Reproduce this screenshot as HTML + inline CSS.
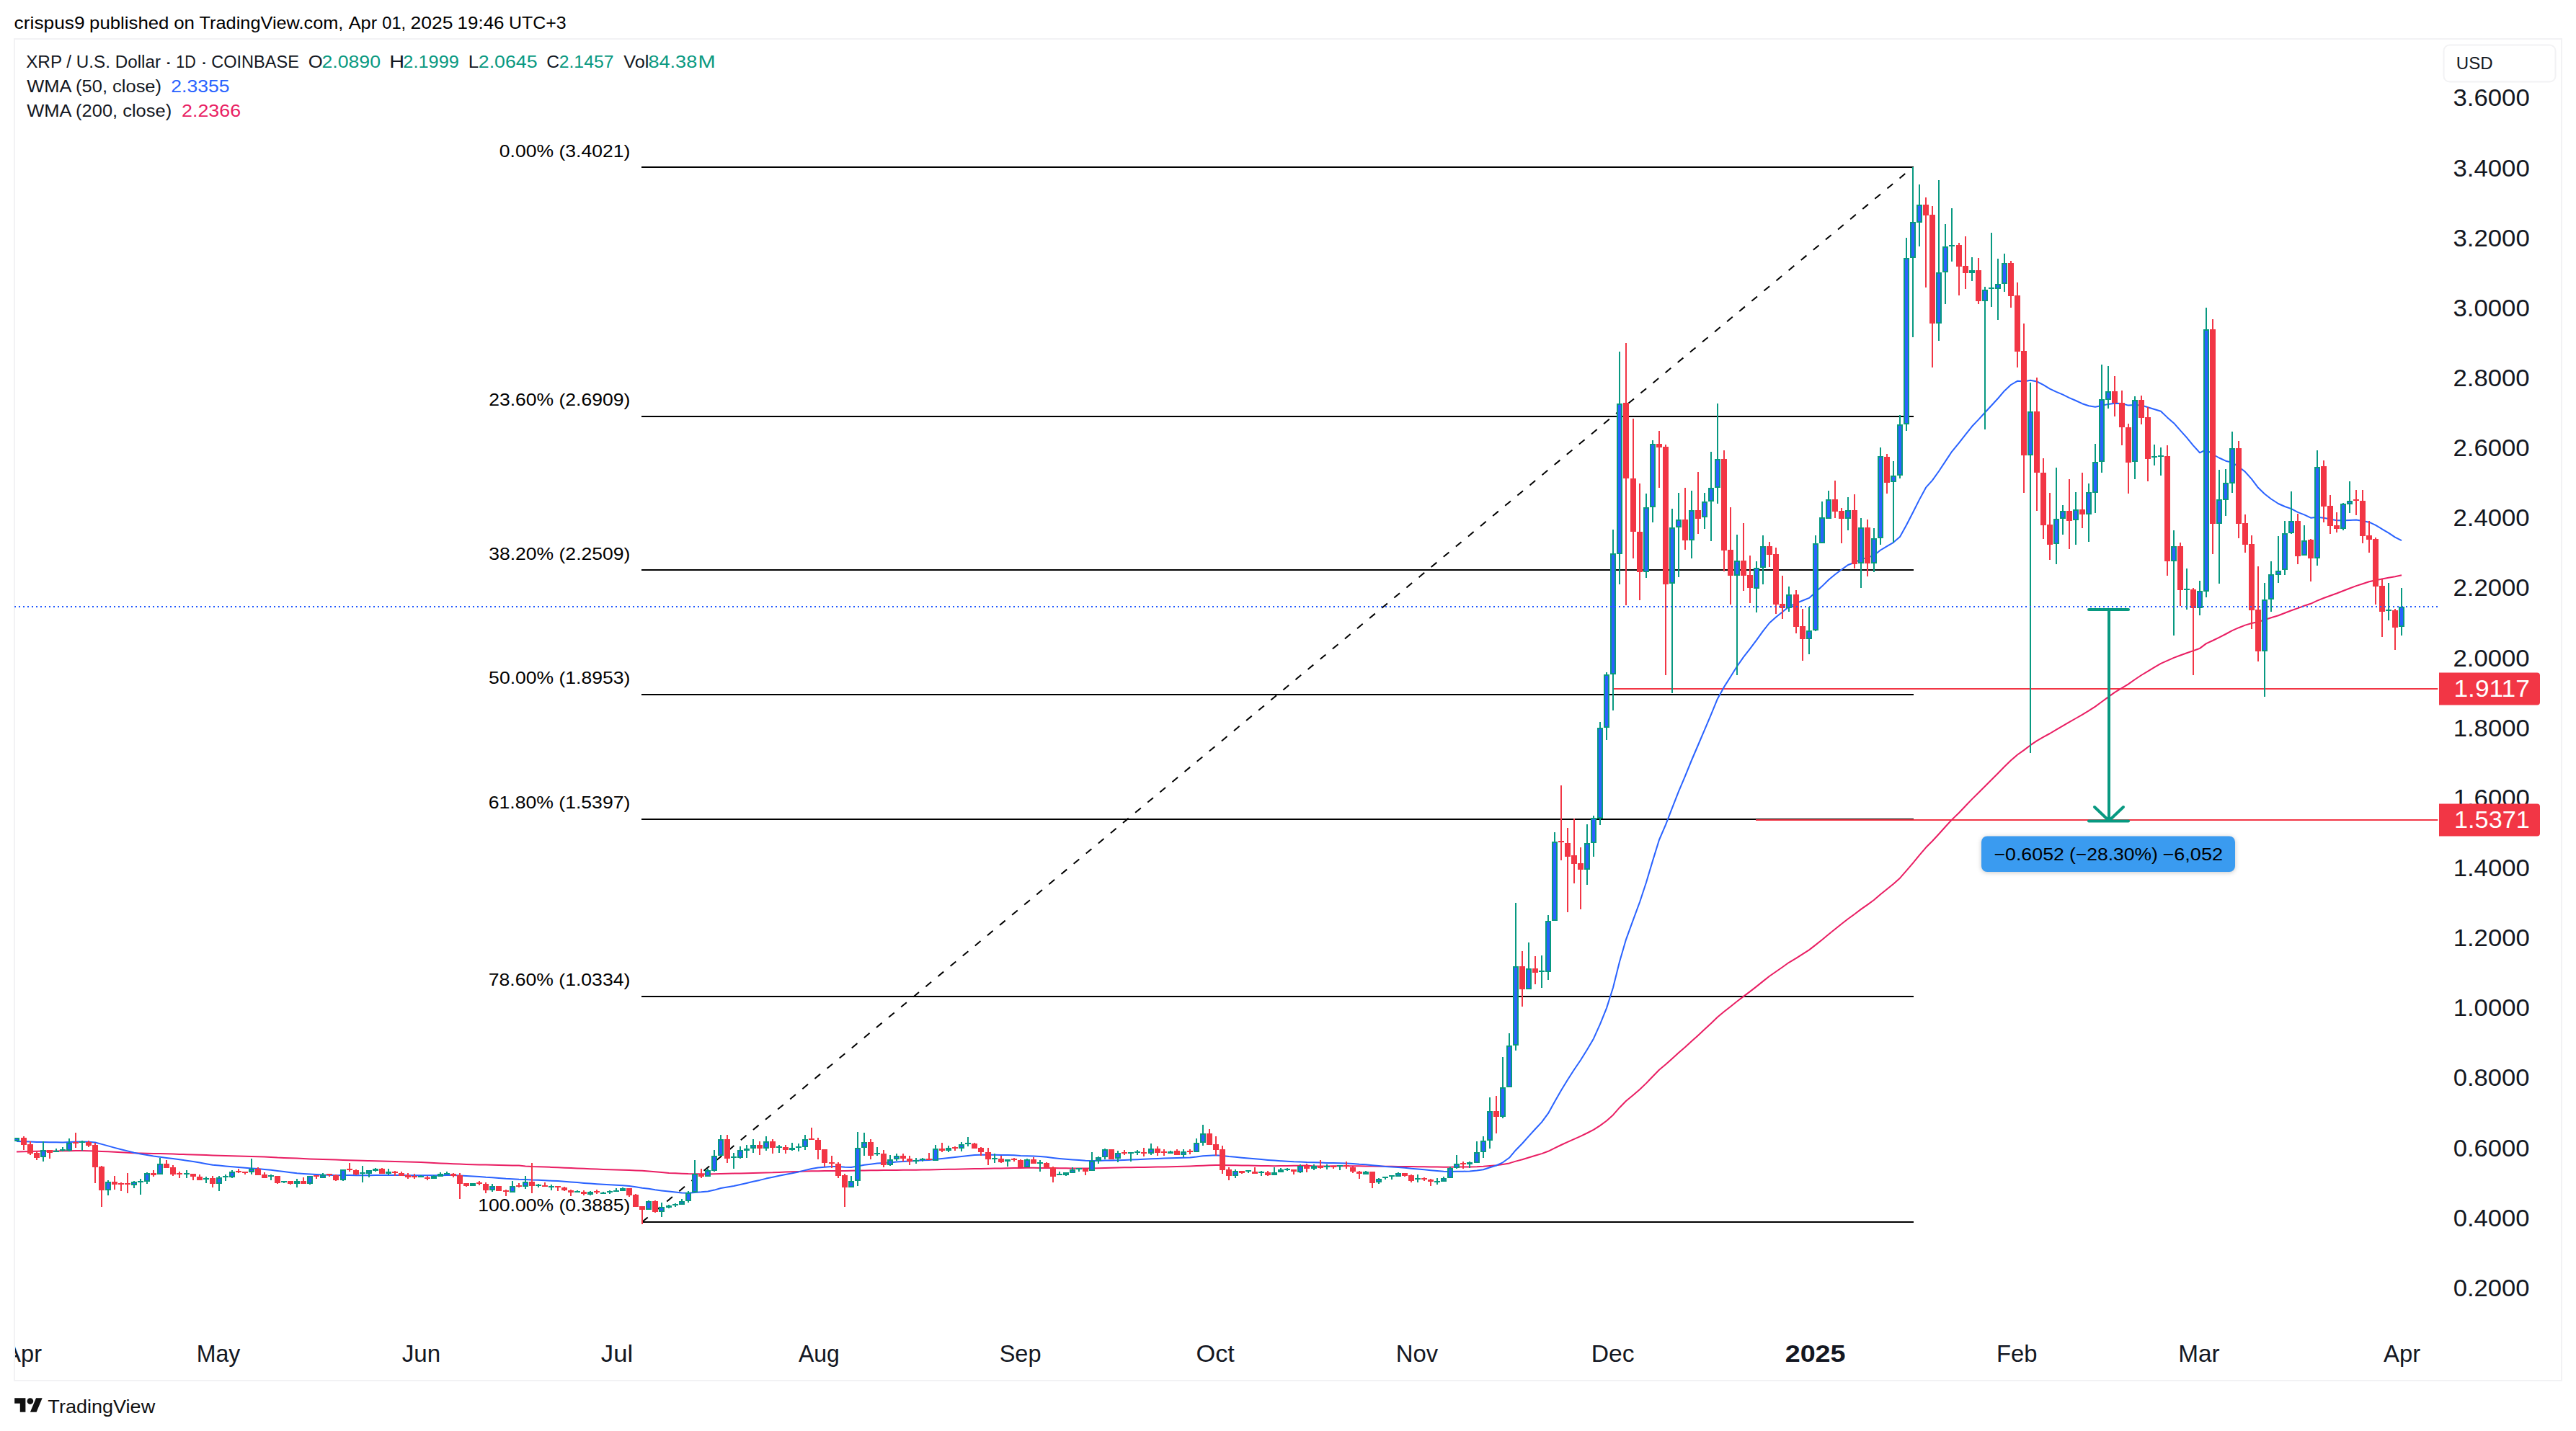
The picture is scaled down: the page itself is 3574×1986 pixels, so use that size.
<!DOCTYPE html>
<html lang="en"><head><meta charset="utf-8"><title>XRP / U.S. Dollar chart</title>
<style>
html,body{margin:0;padding:0;background:#fff;}
body{width:3574px;height:1986px;overflow:hidden;position:relative;}
svg{position:absolute;left:0;top:0;display:block;}
text{font-family:"Liberation Sans", Arial, Helvetica, sans-serif;}
</style></head><body>
<svg xmlns="http://www.w3.org/2000/svg" width="3574" height="1986" viewBox="0 0 3574 1986">
<rect x="0" y="0" width="3574" height="1986" fill="#ffffff"/>
<rect x="20" y="54" width="3534" height="1862" fill="none" stroke="#f2f2f4" stroke-width="2" shape-rendering="crispEdges"/>
<defs><clipPath id="cp"><rect x="20.2" y="55" width="3362.1" height="1860"/></clipPath></defs>
<g shape-rendering="crispEdges" fill="#000">
<rect x="890" y="231" width="1765" height="2"/>
<rect x="890" y="577" width="1765" height="2"/>
<rect x="890" y="790" width="1765" height="2"/>
<rect x="890" y="963" width="1765" height="2"/>
<rect x="890" y="1136" width="1765" height="2"/>
<rect x="890" y="1382" width="1765" height="2"/>
<rect x="890" y="1695" width="1765" height="2"/>
</g>
<line x1="891" y1="1695.8" x2="2654" y2="232.1" stroke="#000" stroke-width="2" stroke-dasharray="10 12.23" stroke-dashoffset="0"/>
<g clip-path="url(#cp)">
<g shape-rendering="crispEdges" fill="#f23645">
<rect x="2239" y="955" width="1144" height="2"/>
<rect x="2436" y="1137" width="947" height="2"/>
</g>
<polyline points="23.0,1598.4 33.0,1598.2 42.0,1598.0 51.0,1597.8 60.0,1597.6 69.0,1597.5 78.0,1597.4 87.0,1597.3 96.0,1597.2 105.0,1597.1 114.0,1597.1 123.0,1597.2 132.0,1597.6 141.0,1597.9 150.0,1598.3 159.0,1598.7 168.0,1599.2 177.0,1599.7 186.0,1600.3 195.0,1600.5 204.0,1600.7 213.0,1600.9 222.0,1601.1 231.0,1601.3 240.0,1601.6 249.0,1601.9 259.0,1602.2 268.0,1602.5 277.0,1602.8 286.0,1603.1 295.0,1603.4 304.0,1603.7 313.0,1604.0 322.0,1604.3 331.0,1604.5 340.0,1604.8 349.0,1605.1 358.0,1605.3 367.0,1605.6 376.0,1606.1 385.0,1606.6 394.0,1606.9 403.0,1607.3 412.0,1607.6 421.0,1608.0 430.0,1608.4 439.0,1608.7 448.0,1609.0 457.0,1609.3 466.0,1609.6 476.0,1609.9 485.0,1610.2 494.0,1610.5 503.0,1610.8 512.0,1611.1 521.0,1611.3 530.0,1611.6 539.0,1611.8 548.0,1612.1 557.0,1612.3 566.0,1612.6 575.0,1612.8 584.0,1613.1 593.0,1613.6 602.0,1614.0 611.0,1614.4 620.0,1614.8 629.0,1615.2 638.0,1615.6 647.0,1616.0 656.0,1616.3 665.0,1616.5 674.0,1616.6 683.0,1616.8 692.0,1617.0 702.0,1617.2 711.0,1617.4 720.0,1617.6 729.0,1618.4 738.0,1618.9 747.0,1619.2 756.0,1619.6 765.0,1619.9 774.0,1620.3 783.0,1620.7 792.0,1621.0 801.0,1621.4 810.0,1621.8 819.0,1622.2 828.0,1622.6 837.0,1622.9 846.0,1623.2 855.0,1623.5 864.0,1623.8 873.0,1624.1 882.0,1624.4 891.0,1624.8 900.0,1625.6 909.0,1626.3 918.0,1627.1 928.0,1627.9 937.0,1628.3 946.0,1628.7 955.0,1629.1 964.0,1629.2 973.0,1629.3 982.0,1629.4 991.0,1629.3 1000.0,1629.1 1009.0,1628.8 1018.0,1628.6 1027.0,1628.4 1036.0,1628.2 1045.0,1628.0 1054.0,1627.8 1063.0,1627.5 1072.0,1627.3 1081.0,1626.9 1090.0,1626.6 1099.0,1626.2 1108.0,1625.9 1117.0,1625.6 1126.0,1625.2 1135.0,1625.2 1144.0,1625.1 1154.0,1625.1 1163.0,1625.0 1172.0,1624.9 1181.0,1624.7 1190.0,1624.6 1199.0,1624.4 1208.0,1624.3 1217.0,1624.2 1226.0,1624.1 1235.0,1624.0 1244.0,1623.9 1253.0,1623.8 1262.0,1623.7 1271.0,1623.7 1280.0,1623.6 1289.0,1623.4 1298.0,1623.2 1307.0,1623.0 1316.0,1622.8 1325.0,1622.7 1334.0,1622.5 1343.0,1622.3 1352.0,1622.1 1361.0,1621.9 1371.0,1621.7 1380.0,1621.6 1389.0,1621.4 1398.0,1621.2 1407.0,1621.0 1416.0,1620.9 1425.0,1620.8 1434.0,1620.8 1443.0,1620.9 1452.0,1621.0 1461.0,1621.1 1470.0,1621.3 1479.0,1621.3 1488.0,1621.4 1497.0,1621.4 1506.0,1621.4 1515.0,1621.5 1524.0,1621.3 1533.0,1621.1 1542.0,1620.8 1551.0,1620.6 1560.0,1620.3 1569.0,1620.2 1578.0,1620.0 1587.0,1619.9 1597.0,1619.7 1606.0,1619.5 1615.0,1619.4 1624.0,1619.2 1633.0,1618.9 1642.0,1618.7 1651.0,1618.4 1660.0,1618.1 1669.0,1617.7 1678.0,1617.2 1687.0,1616.9 1696.0,1617.0 1705.0,1617.2 1714.0,1617.3 1723.0,1617.4 1732.0,1617.6 1741.0,1617.8 1750.0,1617.9 1759.0,1618.1 1768.0,1618.2 1777.0,1618.1 1786.0,1617.9 1795.0,1617.8 1804.0,1617.7 1813.0,1617.6 1823.0,1618.4 1832.0,1618.4 1841.0,1618.4 1850.0,1618.3 1859.0,1618.3 1868.0,1618.2 1877.0,1618.3 1886.0,1618.3 1895.0,1618.4 1904.0,1618.5 1913.0,1618.7 1922.0,1618.8 1931.0,1618.8 1940.0,1618.9 1949.0,1618.9 1958.0,1619.1 1967.0,1619.2 1976.0,1619.3 1985.0,1619.5 1994.0,1619.6 2003.0,1619.7 2012.0,1619.7 2021.0,1619.6 2030.0,1619.6 2039.0,1619.4 2049.0,1619.2 2058.0,1618.8 2067.0,1618.0 2076.0,1617.3 2085.0,1616.1 2094.0,1614.4 2103.0,1611.6 2112.0,1609.2 2121.0,1606.5 2130.0,1603.8 2139.0,1601.1 2148.0,1597.8 2157.0,1593.4 2166.0,1589.0 2175.0,1584.8 2184.0,1580.8 2193.0,1576.8 2202.0,1572.5 2211.0,1567.9 2220.0,1562.1 2229.0,1555.5 2238.0,1547.4 2247.0,1537.2 2256.0,1528.0 2266.0,1519.7 2275.0,1512.0 2284.0,1503.4 2293.0,1494.0 2302.0,1484.7 2311.0,1477.3 2320.0,1469.2 2329.0,1461.0 2338.0,1453.2 2347.0,1445.0 2356.0,1436.9 2365.0,1428.6 2374.0,1420.3 2383.0,1411.5 2392.0,1404.1 2401.0,1397.0 2410.0,1389.8 2419.0,1382.9 2428.0,1376.1 2437.0,1369.1 2446.0,1361.9 2455.0,1354.8 2464.0,1348.5 2473.0,1342.2 2482.0,1335.8 2492.0,1329.9 2501.0,1324.2 2510.0,1318.4 2519.0,1311.4 2528.0,1304.2 2537.0,1296.7 2546.0,1289.5 2555.0,1282.3 2564.0,1275.2 2573.0,1268.8 2582.0,1261.9 2591.0,1255.6 2600.0,1249.0 2609.0,1241.3 2618.0,1234.0 2627.0,1226.7 2636.0,1218.7 2645.0,1208.4 2654.0,1197.8 2663.0,1186.9 2672.0,1176.3 2681.0,1167.2 2690.0,1157.5 2699.0,1147.5 2708.0,1137.6 2718.0,1128.0 2727.0,1118.5 2736.0,1109.1 2745.0,1100.2 2754.0,1091.2 2763.0,1082.2 2772.0,1073.2 2781.0,1064.0 2790.0,1055.3 2799.0,1047.5 2808.0,1041.1 2817.0,1034.2 2826.0,1028.2 2835.0,1022.9 2844.0,1018.0 2853.0,1012.7 2862.0,1007.4 2871.0,1002.2 2880.0,997.0 2889.0,991.8 2898.0,986.4 2907.0,980.6 2916.0,974.0 2925.0,967.4 2934.0,960.9 2944.0,954.9 2953.0,949.4 2962.0,943.0 2971.0,937.0 2980.0,931.6 2989.0,926.1 2998.0,920.8 3007.0,916.9 3016.0,912.9 3025.0,909.5 3034.0,906.2 3043.0,903.1 3052.0,899.9 3061.0,893.1 3070.0,889.0 3079.0,884.6 3088.0,880.0 3097.0,875.1 3106.0,871.2 3115.0,867.6 3124.0,865.0 3133.0,863.0 3142.0,860.3 3151.0,857.3 3161.0,854.3 3170.0,850.8 3179.0,847.2 3188.0,844.1 3197.0,840.8 3206.0,837.8 3215.0,833.6 3224.0,830.0 3233.0,826.7 3242.0,823.5 3251.0,820.0 3260.0,816.5 3269.0,813.1 3278.0,810.2 3287.0,807.3 3296.0,805.2 3305.0,803.5 3314.0,801.7 3323.0,800.3 3332.0,798.2" fill="none" stroke="#e91e63" stroke-width="2" stroke-linejoin="round"/>
<polyline points="23.0,1583.9 33.0,1584.3 42.0,1584.6 51.0,1584.9 60.0,1585.0 69.0,1585.2 78.0,1585.3 87.0,1585.4 96.0,1585.1 105.0,1584.8 114.0,1584.6 123.0,1584.8 132.0,1585.5 141.0,1587.9 150.0,1590.4 159.0,1592.9 168.0,1595.2 177.0,1597.4 186.0,1599.7 195.0,1601.4 204.0,1602.9 213.0,1604.5 222.0,1605.8 231.0,1606.9 240.0,1608.0 249.0,1609.3 259.0,1610.8 268.0,1612.1 277.0,1613.6 286.0,1615.2 295.0,1616.7 304.0,1617.6 313.0,1618.5 322.0,1619.2 331.0,1619.9 340.0,1620.7 349.0,1621.4 358.0,1622.1 367.0,1622.9 376.0,1623.8 385.0,1624.9 394.0,1626.0 403.0,1627.2 412.0,1628.3 421.0,1628.9 430.0,1629.4 439.0,1629.9 448.0,1630.5 457.0,1630.8 466.0,1631.2 476.0,1631.1 485.0,1631.1 494.0,1631.3 503.0,1631.3 512.0,1631.2 521.0,1631.1 530.0,1631.1 539.0,1631.0 548.0,1631.0 557.0,1631.1 566.0,1631.2 575.0,1631.2 584.0,1631.2 593.0,1631.3 602.0,1631.3 611.0,1631.2 620.0,1631.0 629.0,1631.0 638.0,1631.5 647.0,1632.0 656.0,1632.5 665.0,1632.9 674.0,1633.7 683.0,1634.2 692.0,1635.0 702.0,1635.8 711.0,1636.2 720.0,1636.7 729.0,1636.9 738.0,1637.4 747.0,1637.7 756.0,1638.2 765.0,1638.7 774.0,1639.1 783.0,1639.8 792.0,1640.5 801.0,1641.1 810.0,1641.9 819.0,1642.5 828.0,1643.2 837.0,1643.8 846.0,1644.3 855.0,1644.8 864.0,1645.2 873.0,1645.9 882.0,1647.2 891.0,1648.7 900.0,1649.7 909.0,1651.2 918.0,1652.4 928.0,1653.6 937.0,1654.6 946.0,1655.4 955.0,1655.7 964.0,1654.9 973.0,1654.3 982.0,1653.4 991.0,1651.6 1000.0,1649.0 1009.0,1647.5 1018.0,1645.9 1027.0,1644.0 1036.0,1642.0 1045.0,1639.8 1054.0,1637.9 1063.0,1635.6 1072.0,1633.7 1081.0,1631.8 1090.0,1630.0 1099.0,1628.2 1108.0,1626.4 1117.0,1624.1 1126.0,1622.0 1135.0,1620.5 1144.0,1619.7 1154.0,1619.1 1163.0,1619.0 1172.0,1619.7 1181.0,1620.0 1190.0,1618.5 1199.0,1616.7 1208.0,1615.7 1217.0,1614.5 1226.0,1614.1 1235.0,1613.4 1244.0,1612.6 1253.0,1611.9 1262.0,1611.4 1271.0,1610.9 1280.0,1610.3 1289.0,1609.9 1298.0,1608.8 1307.0,1608.0 1316.0,1607.0 1325.0,1606.1 1334.0,1605.0 1343.0,1603.9 1352.0,1603.1 1361.0,1602.7 1371.0,1602.7 1380.0,1602.7 1389.0,1602.9 1398.0,1603.1 1407.0,1603.3 1416.0,1603.9 1425.0,1604.2 1434.0,1604.6 1443.0,1605.0 1452.0,1605.7 1461.0,1606.9 1470.0,1607.9 1479.0,1608.8 1488.0,1609.5 1497.0,1610.1 1506.0,1610.8 1515.0,1611.0 1524.0,1611.0 1533.0,1610.5 1542.0,1610.5 1551.0,1610.2 1560.0,1609.9 1569.0,1609.6 1578.0,1609.2 1587.0,1608.8 1597.0,1608.2 1606.0,1607.9 1615.0,1607.6 1624.0,1607.2 1633.0,1607.0 1642.0,1606.7 1651.0,1606.4 1660.0,1605.6 1669.0,1604.3 1678.0,1603.7 1687.0,1603.3 1696.0,1604.0 1705.0,1605.1 1714.0,1605.8 1723.0,1606.7 1732.0,1607.4 1741.0,1608.2 1750.0,1609.0 1759.0,1609.9 1768.0,1610.6 1777.0,1611.2 1786.0,1611.7 1795.0,1612.3 1804.0,1612.6 1813.0,1613.1 1823.0,1613.3 1832.0,1613.6 1841.0,1613.9 1850.0,1614.1 1859.0,1614.3 1868.0,1614.5 1877.0,1615.0 1886.0,1615.7 1895.0,1616.2 1904.0,1617.2 1913.0,1618.1 1922.0,1618.9 1931.0,1619.5 1940.0,1620.1 1949.0,1620.7 1958.0,1621.7 1967.0,1622.5 1976.0,1623.3 1985.0,1624.2 1994.0,1625.1 2003.0,1625.8 2012.0,1625.9 2021.0,1625.8 2030.0,1625.7 2039.0,1625.4 2049.0,1624.6 2058.0,1623.2 2067.0,1620.2 2076.0,1617.5 2085.0,1613.3 2094.0,1606.8 2103.0,1596.2 2112.0,1587.0 2121.0,1576.8 2130.0,1567.0 2139.0,1557.4 2148.0,1545.2 2157.0,1529.0 2166.0,1513.2 2175.0,1498.5 2184.0,1484.5 2193.0,1471.2 2202.0,1456.8 2211.0,1441.4 2220.0,1421.4 2229.0,1399.1 2238.0,1370.7 2247.0,1334.7 2256.0,1303.8 2266.0,1276.4 2275.0,1252.0 2284.0,1224.7 2293.0,1194.6 2302.0,1165.5 2311.0,1144.7 2320.0,1121.4 2329.0,1098.4 2338.0,1077.1 2347.0,1055.0 2356.0,1034.0 2365.0,1012.8 2374.0,991.7 2383.0,969.7 2392.0,953.4 2401.0,939.2 2410.0,924.8 2419.0,911.9 2428.0,900.4 2437.0,888.4 2446.0,875.8 2455.0,864.5 2464.0,856.5 2473.0,849.3 2482.0,842.0 2492.0,837.1 2501.0,833.5 2510.0,829.9 2519.0,822.1 2528.0,813.6 2537.0,804.7 2546.0,797.2 2555.0,790.5 2564.0,784.0 2573.0,780.8 2582.0,776.2 2591.0,773.9 2600.0,770.7 2609.0,763.5 2618.0,758.2 2627.0,752.8 2636.0,745.1 2645.0,728.8 2654.0,711.2 2663.0,693.4 2672.0,676.7 2681.0,666.6 2690.0,654.0 2699.0,640.4 2708.0,626.8 2718.0,614.6 2727.0,603.1 2736.0,591.8 2745.0,582.4 2754.0,572.5 2763.0,562.7 2772.0,553.0 2781.0,542.4 2790.0,534.0 2799.0,528.8 2808.0,529.4 2817.0,527.7 2826.0,529.5 2835.0,534.1 2844.0,539.7 2853.0,543.9 2862.0,547.7 2871.0,552.1 2880.0,556.0 2889.0,560.2 2898.0,563.3 2907.0,564.8 2916.0,563.0 2925.0,560.9 2934.0,559.7 2944.0,560.1 2953.0,562.6 2962.0,561.9 2971.0,562.4 2980.0,565.2 2989.0,568.0 2998.0,570.8 3007.0,579.4 3016.0,587.2 3025.0,597.3 3034.0,607.3 3043.0,618.3 3052.0,628.3 3061.0,624.0 3070.0,630.5 3079.0,635.5 3088.0,639.7 3097.0,641.9 3106.0,647.9 3115.0,654.8 3124.0,664.9 3133.0,676.8 3142.0,685.5 3151.0,692.5 3161.0,699.0 3170.0,703.0 3179.0,706.1 3188.0,710.9 3197.0,714.4 3206.0,718.7 3215.0,717.7 3224.0,718.7 3233.0,720.5 3242.0,722.2 3251.0,722.2 3260.0,721.9 3269.0,721.6 3278.0,723.1 3287.0,724.7 3296.0,728.8 3305.0,734.3 3314.0,739.6 3323.0,745.7 3332.0,750.2" fill="none" stroke="#2962ff" stroke-width="2" stroke-linejoin="round"/>
<g shape-rendering="crispEdges">
<path d="M23 1579v5M60 1584v28M78 1594v5M87 1592v6M96 1580v18M114 1583v14M150 1638v21M186 1639v10M195 1636v22M204 1627v16M222 1607v23M259 1624v11M286 1633v9M304 1632v21M313 1630v9M322 1624v11M349 1608v22M376 1630v8M394 1639v3M412 1636v12M430 1632v12M448 1628v7M476 1623v16M503 1618v23M512 1624v10M521 1621v5M539 1622v9M584 1631v3M602 1631v5M611 1627v6M620 1626v4M656 1642v4M683 1643v11M711 1639v16M729 1632v18M747 1643v5M765 1644v8M801 1652v3M819 1653v6M837 1654v3M846 1652v5M855 1649v4M864 1648v5M900 1666v13M918 1669v20M928 1672v5M937 1670v5M946 1664v8M955 1653v16M964 1610v45M982 1622v11M991 1596v30M1000 1575v29M1018 1600v22M1027 1591v17M1036 1589v18M1045 1581v19M1063 1577v20M1081 1589v11M1099 1586v11M1108 1587v11M1117 1575v21M1181 1632v16M1190 1571v75M1199 1572v32M1217 1592v12M1235 1603v15M1244 1601v10M1271 1607v8M1280 1607v5M1298 1589v22M1316 1590v9M1334 1585v13M1343 1578v13M1380 1601v13M1398 1609v10M1425 1608v12M1443 1610v16M1470 1626v5M1479 1627v5M1488 1620v8M1497 1621v5M1515 1599v26M1524 1605v10M1533 1594v15M1551 1597v16M1569 1599v13M1578 1596v7M1597 1587v16M1624 1597v4M1642 1595v11M1660 1580v19M1669 1561v29M1714 1623v12M1732 1624v4M1750 1625v7M1768 1620v11M1777 1621v6M1786 1621v4M1804 1616v12M1823 1616v8M1841 1616v7M1859 1617v7M1895 1625v5M1913 1635v8M1922 1633v4M1931 1631v6M1940 1627v6M1967 1630v11M1994 1635v9M2003 1633v7M2012 1619v16M2021 1603v19M2039 1612v9M2049 1584v30M2058 1577v30M2067 1523v71M2085 1467v85M2094 1434v75M2103 1253v205M2121 1308v65M2139 1326v45M2148 1270v90M2157 1155v123M2202 1144v84M2211 1132v57M2220 1002v143M2229 933v94M2238 735v251M2247 488v323M2284 685v117M2293 611v114M2320 706v256M2329 684v117M2347 681v94M2365 684v50M2374 627v124M2383 560v139M2410 742v195M2437 779v71M2446 743v68M2482 814v35M2510 842v66M2519 743v133M2528 696v58M2537 681v39M2564 690v46M2582 719v97M2600 733v61M2609 621v135M2627 640v113M2636 576v88M2645 330v268M2654 232v236M2663 256v86M2690 250v223M2699 311v111M2708 289v74M2736 357v33M2754 398v198M2763 323v103M2772 359v85M2781 352v53M2817 531v514M2853 649v134M2862 701v41M2880 683v73M2898 671v81M2907 616v96M2916 506v150M2925 508v59M2962 550v115M2989 617v29M2998 621v39M3016 736v146M3034 789v57M3052 806v48M3061 427v402M3079 652v158M3088 651v65M3097 599v85M3142 809v158M3151 779v70M3161 744v65M3170 723v75M3179 682v59M3197 729v42M3215 625v160M3251 698v38M3260 668v44M3314 809v52M3332 816v66" stroke="#089981" stroke-width="2" fill="none"/>
<path d="M33 1577v19M42 1584v19M51 1597v13M69 1596v12M105 1572v21M123 1583v9M132 1586v56M141 1618v57M159 1632v19M168 1641v12M177 1628v28M213 1624v9M231 1610v11M240 1617v15M249 1626v9M268 1629v9M277 1630v8M295 1632v16M331 1622v6M340 1626v4M358 1620v11M367 1627v8M385 1632v11M403 1639v5M421 1634v9M439 1631v5M457 1629v4M466 1630v9M485 1614v12M494 1623v8M530 1621v8M548 1625v7M557 1626v6M566 1628v8M575 1629v7M593 1632v6M629 1628v6M638 1628v36M647 1642v5M665 1639v6M674 1641v15M692 1646v7M702 1651v9M720 1642v6M738 1614v42M756 1641v6M774 1646v7M783 1647v6M792 1651v9M810 1652v7M828 1651v6M873 1649v12M882 1657v18M891 1674v25M909 1666v17M973 1622v13M1009 1575v39M1054 1584v19M1072 1581v20M1090 1589v12M1126 1565v17M1135 1579v30M1144 1595v24M1154 1604v17M1163 1613v22M1172 1629v46M1208 1581v28M1226 1596v24M1253 1601v11M1262 1604v13M1289 1600v10M1307 1586v13M1325 1591v6M1352 1586v8M1361 1592v12M1371 1593v24M1389 1604v10M1407 1607v5M1416 1609v11M1434 1606v9M1452 1613v8M1461 1619v22M1506 1622v9M1542 1595v14M1560 1596v7M1587 1593v12M1606 1591v13M1615 1595v9M1633 1595v8M1651 1595v7M1678 1567v22M1687 1577v27M1696 1590v39M1705 1620v18M1723 1625v4M1741 1620v9M1759 1625v7M1795 1623v7M1813 1615v12M1832 1610v12M1850 1618v4M1868 1612v10M1877 1619v9M1886 1625v11M1904 1626v23M1949 1628v5M1958 1630v11M1976 1634v5M1985 1636v10M2030 1612v10M2076 1521v52M2112 1320v77M2130 1327v39M2166 1090v104M2175 1149v117M2184 1136v90M2193 1176v86M2256 476v364M2266 581v194M2275 671v162M2302 598v79M2311 617v320M2338 677v86M2356 655v86M2392 625v168M2401 704v135M2419 726v94M2428 771v66M2455 752v35M2464 760v92M2473 799v60M2492 819v60M2501 845v72M2546 667v52M2555 705v49M2573 686v103M2591 721v79M2618 630v55M2672 274v125M2681 286v224M2718 337v73M2727 328v73M2745 358v64M2790 362v65M2799 392v118M2808 449v235M2826 524v185M2835 636v112M2844 684v93M2871 665v97M2889 656v77M2934 522v56M2944 542v76M2953 588v97M2971 549v40M2980 565v103M3007 618v181M3025 753v88M3043 816v121M3070 443v326M3106 612v135M3115 714v53M3124 743v130M3133 786v132M3188 713v70M3206 748v59M3224 639v86M3233 687v54M3242 711v28M3269 680v35M3278 680v74M3287 723v44M3296 746v93M3305 804v80M3323 845v57" stroke="#f23645" stroke-width="2" fill="none"/>
<path d="M19 1579h8v5h-8zM56 1596h8v10h-8zM74 1597h8v2h-8zM83 1595h8v2h-8zM92 1586h8v11h-8zM110 1584h8v2h-8zM146 1640h8v12h-8zM182 1640h8v5h-8zM191 1639h8v2h-8zM200 1628h8v12h-8zM218 1615h8v15h-8zM255 1628h8v2h-8zM282 1635h8v2h-8zM300 1634h8v9h-8zM309 1632h8v2h-8zM318 1626h8v8h-8zM345 1622h8v5h-8zM372 1631h8v2h-8zM390 1639h8v2h-8zM408 1639h8v4h-8zM426 1632h8v11h-8zM444 1630h8v5h-8zM472 1623h8v15h-8zM499 1627h8v2h-8zM508 1624h8v5h-8zM517 1622h8v3h-8zM535 1626h8v3h-8zM580 1632h8v2h-8zM598 1632h8v4h-8zM607 1629h8v4h-8zM616 1628h8v2h-8zM652 1642h8v4h-8zM679 1646h8v6h-8zM707 1646h8v9h-8zM725 1640h8v7h-8zM743 1644h8v2h-8zM761 1646h8v2h-8zM797 1653h8v2h-8zM815 1654h8v4h-8zM833 1655h8v2h-8zM842 1653h8v2h-8zM851 1652h8v2h-8zM860 1649h8v4h-8zM896 1667h8v12h-8zM914 1675h8v7h-8zM924 1673h8v3h-8zM933 1671h8v2h-8zM942 1667h8v5h-8zM951 1655h8v12h-8zM960 1629h8v26h-8zM978 1624h8v9h-8zM987 1604h8v21h-8zM996 1581h8v23h-8zM1014 1605h8v2h-8zM1023 1596h8v11h-8zM1032 1594h8v3h-8zM1041 1589h8v5h-8zM1059 1584h8v10h-8zM1077 1591h8v2h-8zM1095 1593h8v3h-8zM1104 1591h8v2h-8zM1113 1581h8v11h-8zM1177 1639h8v9h-8zM1186 1593h8v46h-8zM1195 1585h8v8h-8zM1213 1600h8v2h-8zM1231 1609h8v8h-8zM1240 1604h8v5h-8zM1267 1610h8v2h-8zM1276 1608h8v2h-8zM1294 1594h8v17h-8zM1312 1593h8v4h-8zM1330 1588h8v6h-8zM1339 1586h8v2h-8zM1376 1607h8v2h-8zM1394 1609h8v3h-8zM1421 1609h8v11h-8zM1439 1613h8v2h-8zM1466 1629h8v2h-8zM1475 1627h8v4h-8zM1484 1623h8v5h-8zM1493 1621h8v2h-8zM1511 1611h8v14h-8zM1520 1606h8v5h-8zM1529 1595h8v11h-8zM1547 1600h8v8h-8zM1565 1599h8v2h-8zM1574 1598h8v2h-8zM1593 1594h8v7h-8zM1620 1598h8v3h-8zM1638 1598h8v5h-8zM1656 1586h8v13h-8zM1665 1573h8v13h-8zM1710 1625h8v7h-8zM1728 1624h8v2h-8zM1746 1626h8v2h-8zM1764 1627h8v4h-8zM1773 1623h8v4h-8zM1782 1622h8v2h-8zM1800 1618h8v9h-8zM1819 1618h8v4h-8zM1837 1618h8v2h-8zM1855 1617h8v2h-8zM1891 1626h8v4h-8zM1909 1636h8v5h-8zM1918 1633h8v2h-8zM1927 1631h8v2h-8zM1936 1628h8v5h-8zM1963 1635h8v2h-8zM1990 1639h8v2h-8zM1999 1635h8v5h-8zM2008 1621h8v14h-8zM2017 1615h8v6h-8zM2035 1613h8v3h-8zM2045 1599h8v15h-8zM2054 1583h8v16h-8zM2063 1542h8v41h-8zM2081 1509h8v41h-8zM2090 1451h8v58h-8zM2099 1341h8v110h-8zM2117 1344h8v29h-8zM2135 1347h8v2h-8zM2144 1278h8v71h-8zM2153 1168h8v110h-8zM2198 1170h8v37h-8zM2207 1135h8v35h-8zM2216 1010h8v126h-8zM2225 936h8v74h-8zM2234 768h8v168h-8zM2243 560h8v209h-8zM2280 704h8v90h-8zM2289 616h8v88h-8zM2316 732h8v78h-8zM2325 721h8v11h-8zM2343 708h8v42h-8zM2361 696h8v22h-8zM2370 677h8v19h-8zM2379 637h8v40h-8zM2406 778h8v21h-8zM2433 788h8v29h-8zM2442 758h8v30h-8zM2478 825h8v19h-8zM2506 875h8v12h-8zM2515 754h8v121h-8zM2524 718h8v36h-8zM2533 693h8v27h-8zM2560 708h8v12h-8zM2578 732h8v50h-8zM2596 747h8v35h-8zM2605 633h8v114h-8zM2623 660h8v9h-8zM2632 589h8v71h-8zM2641 358h8v231h-8zM2650 308h8v50h-8zM2659 284h8v25h-8zM2686 378h8v71h-8zM2695 342h8v36h-8zM2704 340h8v2h-8zM2732 375h8v4h-8zM2750 402h8v16h-8zM2759 399h8v2h-8zM2768 394h8v7h-8zM2777 365h8v29h-8zM2813 571h8v61h-8zM2849 720h8v35h-8zM2858 709h8v11h-8zM2876 707h8v15h-8zM2894 683h8v31h-8zM2903 641h8v43h-8zM2912 554h8v87h-8zM2921 543h8v12h-8zM2958 555h8v86h-8zM2985 633h8v2h-8zM2994 632h8v2h-8zM3012 758h8v21h-8zM3030 817h8v2h-8zM3048 820h8v24h-8zM3057 457h8v364h-8zM3075 693h8v34h-8zM3084 670h8v24h-8zM3093 622h8v49h-8zM3138 832h8v72h-8zM3147 797h8v35h-8zM3157 792h8v6h-8zM3166 740h8v51h-8zM3175 723h8v17h-8zM3193 750h8v21h-8zM3211 648h8v127h-8zM3247 699h8v35h-8zM3256 695h8v5h-8zM3310 846h8v2h-8zM3328 842h8v28h-8z" fill="#089981"/>
<path d="M21 1581h4v1h-4zM58 1598h4v6h-4zM94 1588h4v7h-4zM148 1642h4v8h-4zM184 1642h4v1h-4zM202 1630h4v8h-4zM220 1617h4v11h-4zM302 1636h4v5h-4zM320 1628h4v4h-4zM347 1624h4v1h-4zM428 1634h4v7h-4zM446 1632h4v1h-4zM474 1625h4v11h-4zM510 1626h4v1h-4zM681 1648h4v2h-4zM709 1648h4v5h-4zM727 1642h4v3h-4zM898 1669h4v8h-4zM916 1677h4v3h-4zM944 1669h4v1h-4zM953 1657h4v8h-4zM962 1631h4v22h-4zM980 1626h4v5h-4zM989 1606h4v17h-4zM998 1583h4v19h-4zM1025 1598h4v7h-4zM1043 1591h4v1h-4zM1061 1586h4v6h-4zM1115 1583h4v7h-4zM1179 1641h4v5h-4zM1188 1595h4v42h-4zM1197 1587h4v4h-4zM1233 1611h4v4h-4zM1242 1606h4v1h-4zM1296 1596h4v13h-4zM1332 1590h4v2h-4zM1423 1611h4v7h-4zM1486 1625h4v1h-4zM1513 1613h4v10h-4zM1522 1608h4v1h-4zM1531 1597h4v7h-4zM1549 1602h4v4h-4zM1595 1596h4v3h-4zM1640 1600h4v1h-4zM1658 1588h4v9h-4zM1667 1575h4v9h-4zM1712 1627h4v3h-4zM1802 1620h4v5h-4zM1911 1638h4v1h-4zM1938 1630h4v1h-4zM2001 1637h4v1h-4zM2010 1623h4v10h-4zM2019 1617h4v2h-4zM2047 1601h4v11h-4zM2056 1585h4v12h-4zM2065 1544h4v37h-4zM2083 1511h4v37h-4zM2092 1453h4v54h-4zM2101 1343h4v106h-4zM2119 1346h4v25h-4zM2146 1280h4v67h-4zM2155 1170h4v106h-4zM2200 1172h4v33h-4zM2209 1137h4v31h-4zM2218 1012h4v122h-4zM2227 938h4v70h-4zM2236 770h4v164h-4zM2245 562h4v205h-4zM2282 706h4v86h-4zM2291 618h4v84h-4zM2318 734h4v74h-4zM2327 723h4v7h-4zM2345 710h4v38h-4zM2363 698h4v18h-4zM2372 679h4v15h-4zM2381 639h4v36h-4zM2408 780h4v17h-4zM2435 790h4v25h-4zM2444 760h4v26h-4zM2480 827h4v15h-4zM2508 877h4v8h-4zM2517 756h4v117h-4zM2526 720h4v32h-4zM2535 695h4v23h-4zM2562 710h4v8h-4zM2580 734h4v46h-4zM2598 749h4v31h-4zM2607 635h4v110h-4zM2625 662h4v5h-4zM2634 591h4v67h-4zM2643 360h4v227h-4zM2652 310h4v46h-4zM2661 286h4v21h-4zM2688 380h4v67h-4zM2697 344h4v32h-4zM2752 404h4v12h-4zM2770 396h4v3h-4zM2779 367h4v25h-4zM2815 573h4v57h-4zM2851 722h4v31h-4zM2860 711h4v7h-4zM2878 709h4v11h-4zM2896 685h4v27h-4zM2905 643h4v39h-4zM2914 556h4v83h-4zM2923 545h4v8h-4zM2960 557h4v82h-4zM3014 760h4v17h-4zM3050 822h4v20h-4zM3059 459h4v360h-4zM3077 695h4v30h-4zM3086 672h4v20h-4zM3095 624h4v45h-4zM3140 834h4v68h-4zM3149 799h4v31h-4zM3159 794h4v2h-4zM3168 742h4v47h-4zM3177 725h4v13h-4zM3195 752h4v17h-4zM3213 650h4v123h-4zM3249 701h4v31h-4zM3258 697h4v1h-4zM3330 844h4v24h-4z" fill="#2962ff"/>
<path d="M29 1579h8v10h-8zM38 1588h8v13h-8zM47 1600h8v7h-8zM65 1596h8v4h-8zM101 1585h8v2h-8zM119 1585h8v5h-8zM128 1589h8v31h-8zM137 1619h8v33h-8zM155 1640h8v4h-8zM164 1642h8v2h-8zM173 1642h8v2h-8zM209 1628h8v3h-8zM227 1615h8v6h-8zM236 1620h8v10h-8zM245 1628h8v2h-8zM264 1629h8v4h-8zM273 1633h8v5h-8zM291 1635h8v8h-8zM327 1625h8v2h-8zM336 1626h8v2h-8zM354 1622h8v9h-8zM363 1630h8v5h-8zM381 1632h8v10h-8zM399 1639h8v4h-8zM417 1639h8v4h-8zM435 1631h8v2h-8zM453 1629h8v2h-8zM462 1631h8v7h-8zM481 1622h8v2h-8zM490 1624h8v6h-8zM526 1622h8v7h-8zM544 1626h8v2h-8zM553 1628h8v4h-8zM562 1631h8v3h-8zM571 1632h8v2h-8zM589 1634h8v2h-8zM625 1629h8v3h-8zM634 1631h8v12h-8zM643 1642h8v4h-8zM661 1641h8v2h-8zM670 1643h8v9h-8zM688 1646h8v7h-8zM698 1652h8v2h-8zM716 1645h8v2h-8zM734 1640h8v6h-8zM752 1645h8v2h-8zM770 1646h8v2h-8zM779 1648h8v4h-8zM788 1652h8v3h-8zM806 1654h8v3h-8zM824 1653h8v2h-8zM869 1649h8v10h-8zM878 1658h8v17h-8zM887 1674h8v5h-8zM905 1667h8v15h-8zM969 1629h8v4h-8zM1005 1581h8v27h-8zM1050 1589h8v5h-8zM1068 1584h8v9h-8zM1086 1592h8v4h-8zM1122 1580h8v2h-8zM1131 1582h8v14h-8zM1140 1595h8v19h-8zM1150 1613h8v2h-8zM1159 1615h8v17h-8zM1168 1631h8v17h-8zM1204 1585h8v19h-8zM1222 1601h8v16h-8zM1249 1604h8v4h-8zM1258 1608h8v4h-8zM1285 1608h8v2h-8zM1303 1594h8v3h-8zM1321 1592h8v2h-8zM1348 1587h8v7h-8zM1357 1593h8v6h-8zM1367 1599h8v10h-8zM1385 1608h8v5h-8zM1403 1608h8v2h-8zM1412 1610h8v10h-8zM1430 1609h8v6h-8zM1448 1614h8v7h-8zM1457 1620h8v13h-8zM1502 1622h8v4h-8zM1538 1595h8v14h-8zM1556 1599h8v2h-8zM1583 1599h8v2h-8zM1602 1594h8v6h-8zM1611 1598h8v2h-8zM1629 1597h8v6h-8zM1647 1597h8v2h-8zM1674 1573h8v16h-8zM1683 1588h8v8h-8zM1692 1595h8v29h-8zM1701 1623h8v9h-8zM1719 1625h8v3h-8zM1737 1626h8v3h-8zM1755 1627h8v4h-8zM1791 1623h8v3h-8zM1809 1618h8v4h-8zM1828 1618h8v3h-8zM1846 1618h8v2h-8zM1864 1617h8v2h-8zM1873 1620h8v6h-8zM1882 1626h8v3h-8zM1900 1626h8v16h-8zM1945 1628h8v4h-8zM1954 1631h8v8h-8zM1972 1635h8v2h-8zM1981 1637h8v3h-8zM2026 1614h8v2h-8zM2072 1542h8v8h-8zM2108 1341h8v32h-8zM2126 1344h8v6h-8zM2162 1167h8v2h-8zM2171 1170h8v19h-8zM2180 1187h8v12h-8zM2189 1198h8v9h-8zM2252 559h8v105h-8zM2262 664h8v74h-8zM2271 738h8v56h-8zM2298 616h8v5h-8zM2307 620h8v191h-8zM2334 721h8v29h-8zM2352 708h8v12h-8zM2388 637h8v127h-8zM2397 763h8v36h-8zM2415 778h8v21h-8zM2424 798h8v18h-8zM2451 758h8v12h-8zM2460 769h8v70h-8zM2469 838h8v6h-8zM2488 825h8v45h-8zM2497 869h8v18h-8zM2542 693h8v17h-8zM2551 709h8v11h-8zM2569 708h8v75h-8zM2587 732h8v50h-8zM2614 634h8v36h-8zM2668 284h8v15h-8zM2677 298h8v151h-8zM2714 340h8v30h-8zM2723 369h8v10h-8zM2741 375h8v43h-8zM2786 365h8v46h-8zM2795 410h8v78h-8zM2804 487h8v145h-8zM2822 571h8v85h-8zM2831 656h8v73h-8zM2840 728h8v28h-8zM2867 709h8v14h-8zM2885 707h8v7h-8zM2930 543h8v16h-8zM2940 559h8v34h-8zM2949 593h8v49h-8zM2967 555h8v25h-8zM2976 579h8v58h-8zM3003 633h8v146h-8zM3021 758h8v61h-8zM3039 818h8v26h-8zM3066 457h8v270h-8zM3102 622h8v105h-8zM3111 726h8v30h-8zM3120 755h8v92h-8zM3129 846h8v58h-8zM3184 723h8v49h-8zM3202 749h8v26h-8zM3220 647h8v56h-8zM3229 702h8v28h-8zM3238 729h8v5h-8zM3265 693h8v2h-8zM3274 695h8v49h-8zM3283 743h8v6h-8zM3292 748h8v66h-8zM3301 813h8v36h-8zM3319 847h8v24h-8z" fill="#f23645"/>
</g>
<line x1="20" y1="842" x2="3383" y2="842" stroke="#1f57ff" stroke-width="2" stroke-dasharray="2 4" shape-rendering="crispEdges"/>
</g>
<g stroke="#089981" stroke-width="4" stroke-linecap="round" fill="none">
<line x1="2898" y1="846" x2="2953" y2="846"/>
<line x1="2926" y1="846" x2="2926" y2="1138"/>
<line x1="2898" y1="1139.5" x2="2953" y2="1139.5"/>
<polyline points="2906,1120 2926,1139 2946,1120" stroke-linejoin="round"/>
</g>
<rect x="2749" y="1160.5" width="352" height="49.5" rx="8" ry="8" fill="#3a9bf0" style="filter:drop-shadow(0 1px 3px rgba(0,0,0,0.22))"/>
<rect x="3390.5" y="62.5" width="155" height="51" rx="8" ry="8" fill="#fff" stroke="#f2f2f4" stroke-width="2"/>
<defs><clipPath id="cp2"><rect x="21" y="1840" width="3532" height="75"/></clipPath></defs>
<text x="19.63" y="40.00" font-size="23.8" fill="#000" textLength="98.00" lengthAdjust="spacingAndGlyphs">crispus9</text>
<text x="124.10" y="40.00" font-size="23.8" fill="#000" textLength="110.31" lengthAdjust="spacingAndGlyphs">published</text>
<text x="241.22" y="40.00" font-size="23.8" fill="#000" textLength="28.80" lengthAdjust="spacingAndGlyphs">on</text>
<text x="276.58" y="40.00" font-size="23.8" fill="#000" textLength="199.79" lengthAdjust="spacingAndGlyphs">TradingView.com,</text>
<text x="483.71" y="40.00" font-size="23.8" fill="#000" textLength="39.46" lengthAdjust="spacingAndGlyphs">Apr</text>
<text x="530.34" y="40.00" font-size="23.8" fill="#000" textLength="32.86" lengthAdjust="spacingAndGlyphs">01,</text>
<text x="569.55" y="40.00" font-size="23.8" fill="#000" textLength="58.87" lengthAdjust="spacingAndGlyphs">2025</text>
<text x="634.56" y="40.00" font-size="23.8" fill="#000" textLength="65.00" lengthAdjust="spacingAndGlyphs">19:46</text>
<text x="705.98" y="40.00" font-size="23.8" fill="#000" textLength="79.66" lengthAdjust="spacingAndGlyphs">UTC+3</text>
<text x="36.21" y="93.80" font-size="24.2" fill="#131722" textLength="186.84" lengthAdjust="spacingAndGlyphs">XRP / U.S. Dollar</text>
<text x="228.05" y="93.80" font-size="24.2" fill="#131722" textLength="11.36" lengthAdjust="spacingAndGlyphs">·</text>
<text x="244.22" y="93.80" font-size="24.2" fill="#131722" textLength="27.42" lengthAdjust="spacingAndGlyphs">1D</text>
<text x="277.84" y="93.80" font-size="24.2" fill="#131722" textLength="10.62" lengthAdjust="spacingAndGlyphs">·</text>
<text x="293.22" y="93.80" font-size="24.2" fill="#131722" textLength="121.73" lengthAdjust="spacingAndGlyphs">COINBASE</text>
<text x="427.70" y="93.80" font-size="24.2" fill="#131722" textLength="19.97" lengthAdjust="spacingAndGlyphs">O</text>
<text x="446.44" y="93.80" font-size="24.2" fill="#089981" textLength="81.57" lengthAdjust="spacingAndGlyphs">2.0890</text>
<text x="540.15" y="93.80" font-size="24.2" fill="#131722" textLength="20.84" lengthAdjust="spacingAndGlyphs">H</text>
<text x="559.36" y="93.80" font-size="24.2" fill="#089981" textLength="77.44" lengthAdjust="spacingAndGlyphs">2.1999</text>
<text x="649.68" y="93.80" font-size="24.2" fill="#131722" textLength="14.42" lengthAdjust="spacingAndGlyphs">L</text>
<text x="663.82" y="93.80" font-size="24.2" fill="#089981" textLength="81.79" lengthAdjust="spacingAndGlyphs">2.0645</text>
<text x="758.23" y="93.80" font-size="24.2" fill="#131722" textLength="17.83" lengthAdjust="spacingAndGlyphs">C</text>
<text x="775.73" y="93.80" font-size="24.2" fill="#089981" textLength="75.73" lengthAdjust="spacingAndGlyphs">2.1457</text>
<text x="865.32" y="93.80" font-size="24.2" fill="#131722" textLength="35.16" lengthAdjust="spacingAndGlyphs">Vol</text>
<text x="899.46" y="93.80" font-size="24.2" fill="#089981" textLength="67.79" lengthAdjust="spacingAndGlyphs">84.38</text>
<text x="968.47" y="93.80" font-size="24.2" fill="#089981" textLength="24.16" lengthAdjust="spacingAndGlyphs">M</text>
<text x="37.16" y="127.90" font-size="24.2" fill="#131722" textLength="186.87" lengthAdjust="spacingAndGlyphs">WMA (50, close)</text>
<text x="237.32" y="127.90" font-size="24.2" fill="#2962ff" textLength="81.09" lengthAdjust="spacingAndGlyphs">2.3355</text>
<text x="37.16" y="161.80" font-size="24.2" fill="#131722" textLength="201.01" lengthAdjust="spacingAndGlyphs">WMA (200, close)</text>
<text x="252.05" y="161.80" font-size="24.2" fill="#e91e63" textLength="82.02" lengthAdjust="spacingAndGlyphs">2.2366</text>
<text x="692.87" y="217.52" font-size="23.8" fill="#000" textLength="181.47" lengthAdjust="spacingAndGlyphs">0.00% (3.4021)</text>
<text x="678.17" y="562.95" font-size="23.8" fill="#000" textLength="196.19" lengthAdjust="spacingAndGlyphs">23.60% (2.6909)</text>
<text x="678.19" y="776.66" font-size="23.8" fill="#000" textLength="196.18" lengthAdjust="spacingAndGlyphs">38.20% (2.2509)</text>
<text x="678.14" y="949.37" font-size="23.8" fill="#000" textLength="196.21" lengthAdjust="spacingAndGlyphs">50.00% (1.8953)</text>
<text x="677.66" y="1122.09" font-size="23.8" fill="#000" textLength="196.71" lengthAdjust="spacingAndGlyphs">61.80% (1.5397)</text>
<text x="677.73" y="1368.00" font-size="23.8" fill="#000" textLength="196.64" lengthAdjust="spacingAndGlyphs">78.60% (1.0334)</text>
<text x="663.35" y="1681.23" font-size="23.8" fill="#000" textLength="211.01" lengthAdjust="spacingAndGlyphs">100.00% (0.3885)</text>
<text x="3403.46" y="147.40" font-size="34" fill="#131722" textLength="106.30" lengthAdjust="spacingAndGlyphs">3.6000</text>
<text x="3403.46" y="244.54" font-size="34" fill="#131722" textLength="106.30" lengthAdjust="spacingAndGlyphs">3.4000</text>
<text x="3403.46" y="341.68" font-size="34" fill="#131722" textLength="106.30" lengthAdjust="spacingAndGlyphs">3.2000</text>
<text x="3403.46" y="438.82" font-size="34" fill="#131722" textLength="106.30" lengthAdjust="spacingAndGlyphs">3.0000</text>
<text x="3403.44" y="535.96" font-size="34" fill="#131722" textLength="106.25" lengthAdjust="spacingAndGlyphs">2.8000</text>
<text x="3403.44" y="633.10" font-size="34" fill="#131722" textLength="106.25" lengthAdjust="spacingAndGlyphs">2.6000</text>
<text x="3403.44" y="730.24" font-size="34" fill="#131722" textLength="106.25" lengthAdjust="spacingAndGlyphs">2.4000</text>
<text x="3403.44" y="827.38" font-size="34" fill="#131722" textLength="106.25" lengthAdjust="spacingAndGlyphs">2.2000</text>
<text x="3403.44" y="924.52" font-size="34" fill="#131722" textLength="106.25" lengthAdjust="spacingAndGlyphs">2.0000</text>
<text x="3403.68" y="1021.66" font-size="34" fill="#131722" textLength="106.14" lengthAdjust="spacingAndGlyphs">1.8000</text>
<text x="3403.68" y="1118.80" font-size="34" fill="#131722" textLength="106.14" lengthAdjust="spacingAndGlyphs">1.6000</text>
<text x="3403.68" y="1215.94" font-size="34" fill="#131722" textLength="106.14" lengthAdjust="spacingAndGlyphs">1.4000</text>
<text x="3403.68" y="1313.08" font-size="34" fill="#131722" textLength="106.14" lengthAdjust="spacingAndGlyphs">1.2000</text>
<text x="3403.68" y="1410.22" font-size="34" fill="#131722" textLength="106.14" lengthAdjust="spacingAndGlyphs">1.0000</text>
<text x="3403.70" y="1507.36" font-size="34" fill="#131722" textLength="105.80" lengthAdjust="spacingAndGlyphs">0.8000</text>
<text x="3403.70" y="1604.50" font-size="34" fill="#131722" textLength="105.80" lengthAdjust="spacingAndGlyphs">0.6000</text>
<text x="3403.70" y="1701.64" font-size="34" fill="#131722" textLength="105.80" lengthAdjust="spacingAndGlyphs">0.4000</text>
<text x="3403.70" y="1798.78" font-size="34" fill="#131722" textLength="105.80" lengthAdjust="spacingAndGlyphs">0.2000</text>
<text x="3407.84" y="96.10" font-size="24.2" fill="#131722" textLength="50.81" lengthAdjust="spacingAndGlyphs">USD</text>
<g clip-path="url(#cp2)"><text x="7.31" y="1889.80" font-size="32.6" fill="#131722" textLength="50.69" lengthAdjust="spacingAndGlyphs">Apr</text></g>
<g clip-path="url(#cp2)"><text x="272.79" y="1889.80" font-size="32.6" fill="#131722" textLength="60.61" lengthAdjust="spacingAndGlyphs">May</text></g>
<g clip-path="url(#cp2)"><text x="557.75" y="1889.80" font-size="32.6" fill="#131722" textLength="53.46" lengthAdjust="spacingAndGlyphs">Jun</text></g>
<g clip-path="url(#cp2)"><text x="833.78" y="1889.80" font-size="32.6" fill="#131722" textLength="44.40" lengthAdjust="spacingAndGlyphs">Jul</text></g>
<g clip-path="url(#cp2)"><text x="1107.94" y="1889.80" font-size="32.6" fill="#131722" textLength="56.83" lengthAdjust="spacingAndGlyphs">Aug</text></g>
<g clip-path="url(#cp2)"><text x="1386.68" y="1889.80" font-size="32.6" fill="#131722" textLength="57.83" lengthAdjust="spacingAndGlyphs">Sep</text></g>
<g clip-path="url(#cp2)"><text x="1659.50" y="1889.80" font-size="32.6" fill="#131722" textLength="53.36" lengthAdjust="spacingAndGlyphs">Oct</text></g>
<g clip-path="url(#cp2)"><text x="1936.73" y="1889.80" font-size="32.6" fill="#131722" textLength="58.34" lengthAdjust="spacingAndGlyphs">Nov</text></g>
<g clip-path="url(#cp2)"><text x="2207.75" y="1889.80" font-size="32.6" fill="#131722" textLength="59.87" lengthAdjust="spacingAndGlyphs">Dec</text></g>
<g clip-path="url(#cp2)"><text x="2476.68" y="1889.80" font-size="32.6" fill="#131722" font-weight="bold" textLength="83.91" lengthAdjust="spacingAndGlyphs">2025</text></g>
<g clip-path="url(#cp2)"><text x="2770.03" y="1889.80" font-size="32.6" fill="#131722" textLength="56.48" lengthAdjust="spacingAndGlyphs">Feb</text></g>
<g clip-path="url(#cp2)"><text x="3022.36" y="1889.80" font-size="32.6" fill="#131722" textLength="57.35" lengthAdjust="spacingAndGlyphs">Mar</text></g>
<g clip-path="url(#cp2)"><text x="3307.00" y="1889.80" font-size="32.6" fill="#131722" textLength="51.08" lengthAdjust="spacingAndGlyphs">Apr</text></g>
<text x="2766.40" y="1194.30" font-size="24.2" fill="#000" textLength="97.52" lengthAdjust="spacingAndGlyphs">−0.6052</text>
<text x="2870.94" y="1194.30" font-size="24.2" fill="#000" textLength="122.84" lengthAdjust="spacingAndGlyphs">(−28.30%)</text>
<text x="3000.42" y="1194.30" font-size="24.2" fill="#000" textLength="83.67" lengthAdjust="spacingAndGlyphs">−6,052</text>
<text x="66.39" y="1960.70" font-size="26" fill="#111111" textLength="148.79" lengthAdjust="spacingAndGlyphs">TradingView</text>
<path d="M3384 933.5h136a4 4 0 0 1 4 4v37a4 4 0 0 1 -4 4h-136z" fill="#f23645"/>
<text x="3404.42" y="966.81" font-size="33.5" fill="#fff" textLength="105.51" lengthAdjust="spacingAndGlyphs">1.9117</text>
<path d="M3384 1115.5h136a4 4 0 0 1 4 4v37a4 4 0 0 1 -4 4h-136z" fill="#f23645"/>
<text x="3405.02" y="1148.75" font-size="33.5" fill="#fff" textLength="104.91" lengthAdjust="spacingAndGlyphs">1.5371</text>
<g transform="translate(20.2 1935.86) scale(1.085)" fill="#111111">
<path d="M14 22H7V11H0V4h14v18zM28 22h-8l7.5-18h8L28 22z"/><circle cx="20" cy="8" r="4"/></g>
</svg>
</body></html>
